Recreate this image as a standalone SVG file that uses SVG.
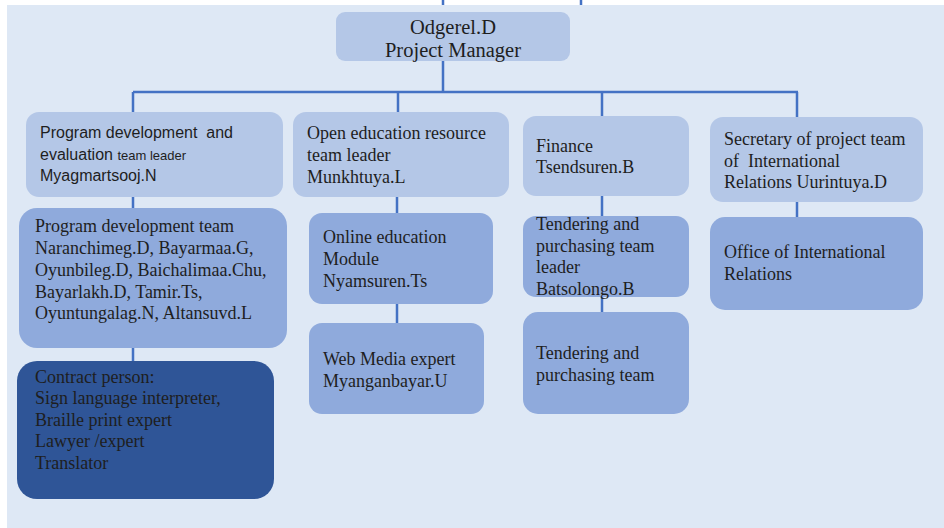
<svg xmlns="http://www.w3.org/2000/svg" width="944" height="528" viewBox="0 0 944 528">
<style>
.bg{fill:#dee8f5}
.l1{fill:#b4c7e7}
.l2{fill:#8faadc}
.l3{fill:#2f5597}
.t{font-family:"Liberation Serif","Times New Roman",serif;font-size:18px;fill:#1e1e1e}
.s{font-family:"Liberation Sans",Arial,sans-serif;font-size:16px;fill:#1e1e1e}
.c{stroke:#4472c4;stroke-width:2.5;fill:none}
</style>
<rect x="0" y="0" width="944" height="528" fill="#ffffff"/>
<rect class="bg" x="7" y="5" width="937" height="523"/>
<g id="connectors">
<path class="c" d="M443 0V5M581 0V5"/>
<path class="c" d="M443 61V92M133 92H798M133 92V112M398 92V112M602 92V116M797 92V117"/>
<path class="c" d="M133 196V208M133 348V361"/>
<path class="c" d="M397 197V213M397 304V323"/>
<path class="c" d="M602 196V216M602 297V312"/>
<path class="c" d="M797 202V217"/>
</g>
<g id="manager">
<rect class="l1" x="336" y="12" width="234" height="49" rx="9"/>
<text class="t" x="453" y="34" text-anchor="middle" style="font-size:20.5px">Odgerel.D</text>
<text class="t" x="453" y="57" text-anchor="middle" style="font-size:20.5px">Project Manager</text>
</g>
<g id="prog-leader">
<rect class="l1" x="26" y="112" width="257" height="85" rx="13"/>
<text class="s" x="40" y="138" xml:space="preserve">Program development  and</text>
<text class="s" x="40" y="160">evaluation <tspan style="font-size:13px">team leader</tspan></text>
<text class="s" x="40" y="181">Myagmartsooj.N</text>
</g>
<g id="prog-team">
<rect class="l2" x="19" y="208" width="268" height="140" rx="18"/>
<text class="t" x="35" y="232">Program development team</text>
<text class="t" x="35" y="254">Naranchimeg.D, Bayarmaa.G,</text>
<text class="t" x="35" y="276">Oyunbileg.D, Baichalimaa.Chu,</text>
<text class="t" x="35" y="298">Bayarlakh.D, Tamir.Ts,</text>
<text class="t" x="35" y="319">Oyuntungalag.N, Altansuvd.L</text>
</g>
<g id="contract">
<rect class="l3" x="17" y="361" width="257" height="138" rx="20"/>
<text class="t" x="35" y="383">Contract person:</text>
<text class="t" x="35" y="404">Sign language interpreter,</text>
<text class="t" x="35" y="426">Braille print expert</text>
<text class="t" x="35" y="447">Lawyer /expert</text>
<text class="t" x="35" y="469">Translator</text>
</g>
<g id="oer-leader">
<rect class="l1" x="293" y="112" width="216" height="85" rx="13"/>
<text class="t" x="307" y="139">Open education resource</text>
<text class="t" x="307" y="161">team leader</text>
<text class="t" x="307" y="183">Munkhtuya.L</text>
</g>
<g id="online-module">
<rect class="l2" x="309" y="213" width="184" height="91" rx="13"/>
<text class="t" x="323" y="243">Online education</text>
<text class="t" x="323" y="265">Module</text>
<text class="t" x="323" y="287">Nyamsuren.Ts</text>
</g>
<g id="web-media">
<rect class="l2" x="309" y="323" width="175" height="91" rx="13"/>
<text class="t" x="323" y="365">Web Media expert</text>
<text class="t" x="323" y="387">Myanganbayar.U</text>
</g>
<g id="finance">
<rect class="l1" x="523" y="116" width="166" height="80" rx="13"/>
<text class="t" x="536" y="152">Finance</text>
<text class="t" x="536" y="173">Tsendsuren.B</text>
</g>
<g id="tender-leader">
<rect class="l2" x="523" y="216" width="166" height="81" rx="13"/>
<text class="t" x="536" y="230">Tendering and</text>
<text class="t" x="536" y="252">purchasing team</text>
<text class="t" x="536" y="273">leader</text>
<text class="t" x="536" y="295">Batsolongo.B</text>
</g>
<g id="tender-team">
<rect class="l2" x="523" y="312" width="166" height="102" rx="15"/>
<text class="t" x="536" y="359">Tendering and</text>
<text class="t" x="536" y="381">purchasing team</text>
</g>
<g id="secretary">
<rect class="l1" x="710" y="117" width="213" height="85" rx="13"/>
<text class="t" x="724" y="145">Secretary of project team</text>
<text class="t" x="724" y="167" xml:space="preserve">of  International</text>
<text class="t" x="724" y="188">Relations Uurintuya.D</text>
</g>
<g id="office-ir">
<rect class="l2" x="710" y="217" width="213" height="93" rx="15"/>
<text class="t" x="724" y="258">Office of International</text>
<text class="t" x="724" y="280">Relations</text>
</g>
</svg>
